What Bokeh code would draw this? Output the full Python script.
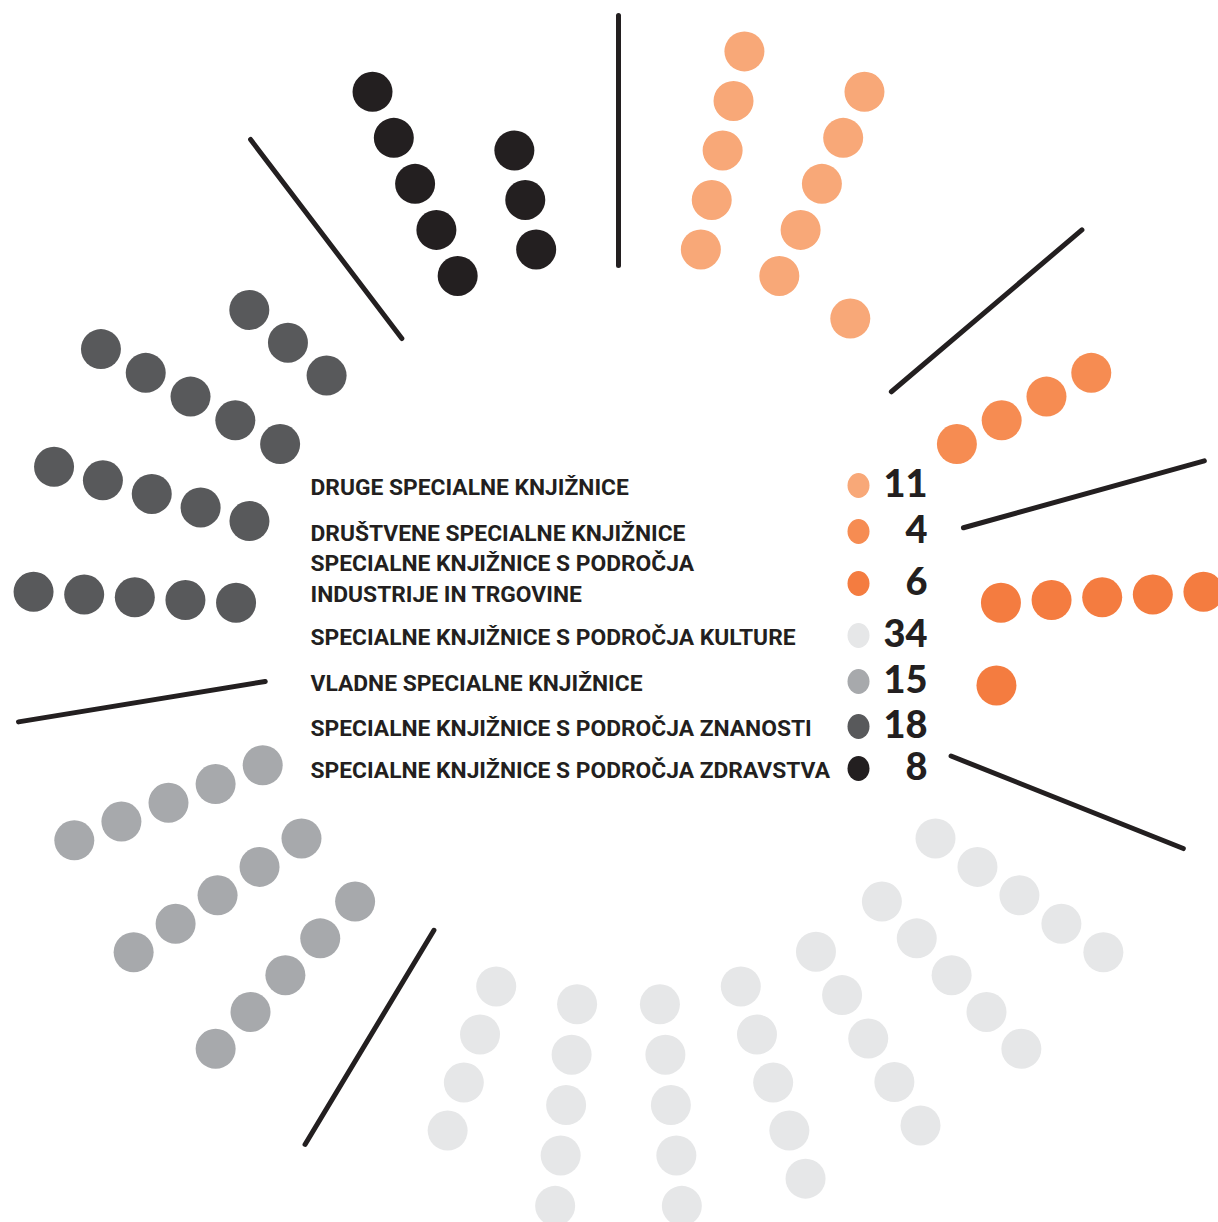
import math
from bokeh.plotting import figure
from bokeh.models import Range1d
from bokeh.core.properties import value
from bokeh.embed import file_html
from bokeh.resources import INLINE

# ---- data ----
categories = [
    "DRUGE SPECIALNE KNJIŽNICE",
    "DRUŠTVENE SPECIALNE KNJIŽNICE",
    "SPECIALNE KNJIŽNICE S PODROČJA\nINDUSTRIJE IN TRGOVINE",
    "SPECIALNE KNJIŽNICE S PODROČJA KULTURE",
    "VLADNE SPECIALNE KNJIŽNICE",
    "SPECIALNE KNJIŽNICE S PODROČJA ZNANOSTI",
    "SPECIALNE KNJIŽNICE S PODROČJA ZDRAVSTVA",
]
counts = [11, 4, 6, 34, 15, 18, 8]
colors = ["#f8a878", "#f68c52", "#f47c40", "#e6e7e8", "#a7a9ac", "#58595b", "#231f20"]

# ---- layout ----
W, H = 1218, 1222
OFF = 0                    # page offset of the figure
CX, CY = 618, 623          # ring centre in page pixels
PER_COL = 5
R0, STEP = 383, 50.7
LINE_IN, LINE_OUT = 358, 608
n_slots = sum(math.ceil(c / PER_COL) + 1 for c in counts)
slot = 360.0 / n_slots

p = figure(width=W, height=H, output_backend="svg", toolbar_location=None,
           x_range=Range1d(OFF - CX, OFF + W - CX), y_range=Range1d(CY - OFF - H, CY - OFF),
           min_border=0)
p.axis.visible = False
p.grid.visible = False
p.outline_line_color = None
p.background_fill_color = "white"
p.border_fill_color = "white"

dx, dy, dc = [], [], []
lx0, ly0, lx1, ly1 = [], [], [], []
a = 90.0
for n, col in zip(counts, colors):
    t = math.radians(a)
    lx0.append(LINE_IN * math.cos(t)); ly0.append(LINE_IN * math.sin(t))
    lx1.append(LINE_OUT * math.cos(t)); ly1.append(LINE_OUT * math.sin(t))
    ncol = math.ceil(n / PER_COL)
    for j in range(ncol):
        a -= slot
        t = math.radians(a)
        k_dots = min(PER_COL, n - PER_COL * j)
        for k in range(k_dots):
            r = R0 + k * STEP
            dx.append(r * math.cos(t)); dy.append(r * math.sin(t)); dc.append(col)
    a -= slot

p.segment(x0=lx0, y0=ly0, x1=lx1, y1=ly1, line_color="#231f20", line_width=5,
          line_cap="round")
p.scatter(x=dx, y=dy, size=40, fill_color=dc, line_color=None)

# ---- legend ----
row_y = [485, 531, 583, 635, 681, 726, 768]   # page pixel rows
LABEL_X, DOT_X, NUM_X = 310, 858, 927

tx, ty, tt = [], [], []
for name, ry in zip(categories, row_y):
    lines = name.split("\n")
    if len(lines) == 1:
        tx.append(LABEL_X - CX); ty.append(CY - (ry + 2)); tt.append(lines[0])
    else:
        tx.append(LABEL_X - CX); ty.append(CY - (ry - 20)); tt.append(lines[0])
        tx.append(LABEL_X - CX); ty.append(CY - (ry + 11)); tt.append(lines[1])

p.text(x=tx, y=ty, text=tt, text_font=value("Roboto"), text_font_style="bold",
       text_font_size="22.8px", text_color="#231f20", text_baseline="alphabetic",
       text_align="left")

p.ellipse(x=[DOT_X - CX] * len(row_y), y=[CY - ry for ry in row_y], width=22, height=25,
          fill_color=colors, line_color=None)

p.text(x=[NUM_X - CX] * len(row_y), y=[CY - (ry - 3) for ry in row_y],
       text=[str(c) for c in counts], text_font=value("Lato Black"), text_font_style="bold",
       text_font_size="38px", text_color="#231f20", text_baseline="alphabetic",
       text_align="right")

open("out.html", "w").write(file_html(p, INLINE))
